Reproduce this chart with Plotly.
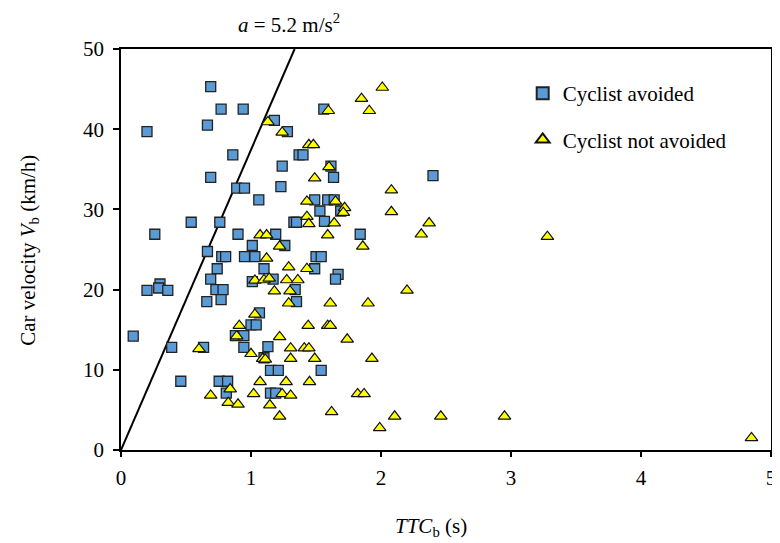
import plotly.graph_objects as go

# Cyclist avoided (blue squares): TTC_b (s), V_b (km/h)
avoided_ttc = [0.69, 0.77, 0.94, 0.665, 0.20, 0.86, 0.69, 0.89, 0.95,
               1.18, 1.28, 1.56, 1.37, 1.40, 1.24, 1.615, 1.635, 1.23, 2.40,
               1.06, 0.54, 0.76, 0.26, 0.90, 1.01, 0.665, 0.775, 0.805, 0.95, 1.03,
               0.74, 1.10, 0.69, 1.01, 0.30, 0.29, 0.20, 0.36, 0.73, 0.785, 0.66, 0.77,
               1.065, 1.00, 1.04,
               0.094, 0.39, 0.635, 0.46, 0.755, 0.82, 0.81, 0.88, 0.945, 0.945, 1.10,
               1.13, 1.15, 1.19,
               1.15, 1.21, 1.54,
               1.49, 1.59, 1.64, 1.53, 1.69, 1.33, 1.35, 1.565, 1.84, 1.19, 1.26,
               1.50, 1.54, 1.49, 1.67, 1.65, 1.17, 1.34, 1.35]
avoided_v = [45.3, 42.5, 42.5, 40.5, 39.7, 36.8, 34.0, 32.65, 32.65,
             41.1, 39.7, 42.5, 36.8, 36.8, 35.4, 35.4, 34.0, 32.85, 34.2,
             31.2, 28.4, 28.4, 26.9, 26.9, 25.5, 24.75, 24.1, 24.1, 24.1, 24.1,
             22.6, 22.6, 21.3, 21.0, 20.7, 20.2, 19.9, 19.9, 20.0, 20.0, 18.5, 18.75,
             17.1, 15.6, 15.6,
             14.2, 12.8, 12.8, 8.57, 8.57, 8.57, 7.1, 14.25, 14.25, 12.8, 11.5,
             12.9, 7.1, 7.1,
             9.94, 9.94, 9.94,
             31.2, 31.2, 31.2, 29.8, 29.8, 28.4, 28.4, 28.5, 26.9, 26.9, 25.5,
             24.1, 24.1, 22.6, 21.9, 21.3, 21.3, 20.0, 18.5]

# Cyclist not avoided (yellow triangles)
not_avoided_ttc = [1.13, 1.24, 1.595, 1.85, 2.01, 1.91, 1.445, 1.48, 1.60, 1.49,
                   2.08, 2.08, 2.37, 2.31, 3.28,
                   1.07, 1.12, 1.12, 1.03, 1.10, 1.14, 1.03, 0.91, 0.89,
                   0.60, 0.84, 0.69, 0.825, 0.90, 1.00, 1.09, 1.11, 1.07, 1.02, 1.145,
                   1.43, 1.65, 1.72, 1.71, 1.43, 1.445, 1.64, 1.86, 1.59, 1.22,
                   1.29, 1.43, 1.275, 1.36, 1.18, 1.30, 2.20, 1.29, 1.61, 1.90,
                   1.44, 1.59, 1.61,
                   1.22, 1.305, 1.41, 1.445, 1.74, 1.305, 1.49, 1.93, 1.27, 1.45,
                   1.24, 1.305, 1.82, 1.87, 1.22, 1.62, 2.105, 1.99,
                   2.46, 2.95, 4.85]
not_avoided_v = [40.9, 39.6, 42.3, 43.8, 45.2, 42.3, 38.05, 38.05, 35.3, 33.9,
                 32.4, 29.7, 28.3, 26.9, 26.6,
                 26.8, 26.8, 23.9, 21.15, 21.2, 21.4, 16.9, 15.5, 14.2,
                 12.6, 7.6, 6.8, 5.9, 5.7, 12.0, 11.4, 11.3, 8.5, 7.0, 5.6,
                 31.0, 31.0, 30.2, 29.6, 29.1, 28.2, 28.3, 25.4, 26.8, 25.4,
                 22.8, 22.6, 21.2, 21.2, 19.8, 19.8, 19.9, 18.3, 18.3, 18.3,
                 15.5, 15.5, 15.5,
                 14.1, 12.7, 12.7, 12.7, 13.8, 11.4, 11.4, 11.4, 8.5, 8.5,
                 7.0, 6.8, 7.0, 7.0, 4.2, 4.75, 4.2, 2.76,
                 4.2, 4.2, 1.5]

# Deceleration boundary a = 5.2 m/s^2: TTC = V / (2a), V in km/h
accel = 5.2
line_v = [0, 50]
line_ttc = [v / 3.6 / (2 * accel) for v in line_v]

x_ticks = [0, 1, 2, 3, 4, 5]
y_ticks = [0, 10, 20, 30, 40, 50]

FONT = "Liberation Serif, Times New Roman, serif"
FS = 21

fig = go.Figure()
fig.add_trace(go.Scatter(x=line_ttc, y=line_v, mode="lines",
                         line=dict(color="black", width=2), showlegend=False,
                         hoverinfo="skip"))
fig.add_trace(go.Scatter(x=avoided_ttc, y=avoided_v, mode="markers",
                         name="Cyclist avoided", legendgroup="a",
                         marker=dict(symbol="square", size=10, color="#5B9BD5",
                                     line=dict(color="#222222", width=1.3))))
fig.add_trace(go.Scatter(x=not_avoided_ttc, y=not_avoided_v, mode="markers",
                         name="Cyclist not avoided", legendgroup="b",
                         marker=dict(symbol="triangle-up", size=11, color="#FFFF00",
                                     line=dict(color="#111111", width=1.2))))

# page body has an 8px margin: plot area spans page x 121..776, y 49..450
fig.update_layout(
    width=772, height=535,
    margin=dict(l=113, r=4, t=41, b=93),
    paper_bgcolor="white", plot_bgcolor="white",
    font=dict(family=FONT, size=FS, color="black"),
    legend=dict(x=0.618, y=0.94, xanchor="left", yanchor="top",
                bgcolor="rgba(0,0,0,0)", font=dict(size=FS),
                tracegroupgap=16, traceorder="grouped", itemsizing="constant"),
    xaxis=dict(range=[0, 5], tickvals=x_ticks, ticktext=[str(t) for t in x_ticks],
               showgrid=False, zeroline=False, showline=True, linecolor="black",
               linewidth=1.5, mirror=True, ticks="outside", ticklen=5,
               tickwidth=1.5, tickcolor="black", ticklabelstandoff=3),
    yaxis=dict(range=[0, 50], tickvals=y_ticks, ticktext=[str(t) for t in y_ticks],
               showgrid=False, zeroline=False, showline=True, linecolor="black",
               linewidth=1.5, mirror=True, ticks="outside", ticklen=6,
               tickwidth=1.5, tickcolor="black", ticklabelstandoff=5),
    annotations=[
        dict(text="<i>a</i> = 5.2 m/s<sup>2</sup>", xref="paper", yref="paper",
             x=(290 - 121) / 655, y=1 + (49 - 23) / 401, xanchor="center",
             yanchor="middle", showarrow=False, font=dict(size=FS)),
        dict(text="<i>TTC</i><sub>b</sub> (s)", xref="paper", yref="paper",
             x=(433 - 121) / 655, y=-(527 - 450) / 401, xanchor="center",
             yanchor="middle", showarrow=False, font=dict(size=FS)),
        dict(text="Car velocity <i>V</i><sub>b</sub> (km/h)", xref="paper", yref="paper",
             x=-(121 - 28) / 655, y=(450 - 250) / 401, xanchor="center",
             yanchor="middle", textangle=-90, showarrow=False, font=dict(size=FS)),
    ],
)

fig.write_html("out.html")
